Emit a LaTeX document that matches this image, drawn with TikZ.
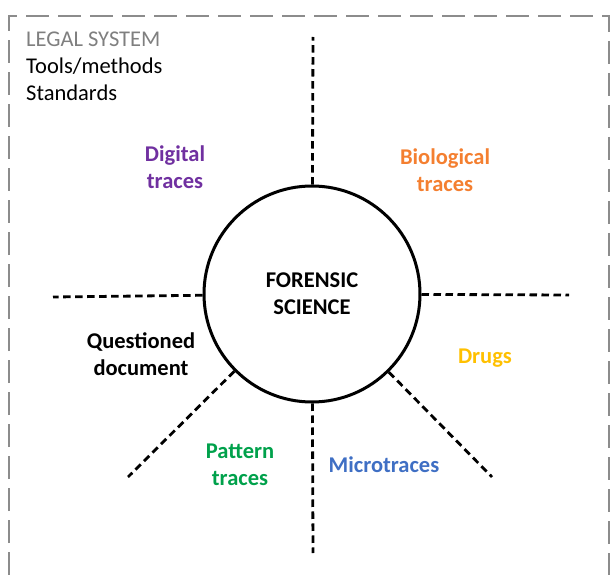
\documentclass[tikz,border=0pt]{standalone}
\usepackage{fontspec}
\setmainfont{Carlito}
\usepackage{tikz}
\usetikzlibrary{positioning,calc}

\definecolor{framegrey}{HTML}{8C8C8C}
\definecolor{legalgrey}{HTML}{7F7F7F}
\definecolor{digitalpurple}{HTML}{7030A0}
\definecolor{bioorange}{HTML}{F47F30}
\definecolor{drugsgold}{HTML}{FFC000}
\definecolor{patterngreen}{HTML}{00A14B}
\definecolor{microblue}{HTML}{3F6FC4}

\begin{document}
\begin{tikzpicture}[x=1pt,y=-1pt,
        txt/.style={font=\fontsize{22.5}{27}\selectfont, align=center, inner sep=0pt},
        area/.style={txt, font=\fontsize{22.5}{27}\selectfont\bfseries},
        spoke/.style={line width=2.8pt, dash pattern=on 7.5pt off 4.5pt},
        border/.style={framegrey, line width=2.8pt, dash pattern=on 23pt off 9pt}]
        \useasboundingbox (0,0) rectangle (611,575);

        % Outer frame (legal system)
        \coordinate (frameBL) at (9,575);
        \coordinate (frameTR) at (609,16);
        \coordinate (frameBR) at (609,575);
        \draw[border] (frameBL) |- (frameTR) -- (frameBR);

        % Frame text
        \node[txt, align=left, anchor=north west] (legal) at (26,32)
            {{\color{legalgrey}LEGAL SYSTEM}\\Tools/methods\\Standards};

        % Centre circle
        \node[circle, draw, line width=3pt, minimum size=216pt, inner sep=0pt, area] (core) at (312,294) {FORENSIC\\SCIENCE};

        % Free ends of the spokes
        \coordinate (topEnd) at (313,37);
        \coordinate (leftEnd) at (53,297);
        \coordinate (rightEnd) at (569,295);
        \coordinate (bottomEnd) at (313,553);
        \coordinate (lowLeftEnd) at (128,477);
        \coordinate (lowRightEnd) at (492,477);

        % Spokes
        \draw[spoke] (core) -- (topEnd);
        \draw[spoke] (core) -- (leftEnd);
        \draw[spoke] (core) -- (rightEnd);
        \draw[spoke] (core) -- (bottomEnd);
        \draw[spoke] (core) -- (lowLeftEnd);
        \draw[spoke] (core) -- (lowRightEnd);

        % Trace areas
        \node[area, digitalpurple] (digital) at (175,167) {Digital\\traces};
        \node[area, bioorange] (bio) at (445,170) {Biological\\traces};
        \node[area] (questioned) at (141,354) {Questioned\\document};
        \node[area, drugsgold] (drugs) at (485,358) {Drugs};
        \node[area, patterngreen] (pattern) at (240,465) {Pattern\\traces};
        \node[area, microblue] (micro) at (384,465) {Microtraces};
\end{tikzpicture}
\end{document}
